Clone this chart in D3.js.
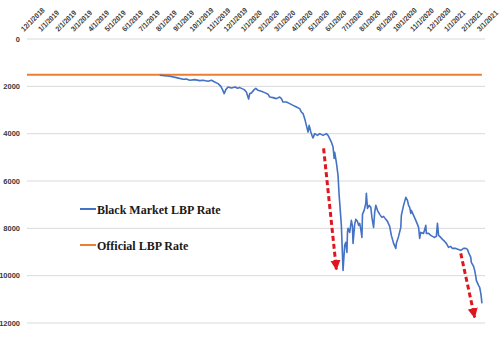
<!DOCTYPE html>
<html lang="en">
<head>
    <meta charset="UTF-8">
    <title>Black Market vs Official LBP Rate</title>
    <script src="https://d3js.org/d3.v7.min.js"></script>
    <style>
        body { margin: 0; background: #fff; }
        .tick-label {
            font-family: "Liberation Sans", Arial, sans-serif;
            font-size: 7.5px;
            font-weight: bold;
            fill: #3a3a3a;
        }
        .legend-label {
            font-family: "Liberation Serif", "Times New Roman", serif;
            font-size: 12px;
            font-weight: bold;
            fill: #1a1a1a;
        }
    </style>
</head>
<body>
    <svg width="500" height="352"></svg>
    <script>
        // month labels on the category axis
        const monthLabels = ["12/1/2018", "1/1/2019", "2/1/2019", "3/1/2019", "4/1/2019", "5/1/2019",
            "6/1/2019", "7/1/2019", "8/1/2019", "9/1/2019", "10/1/2019", "11/1/2019", "12/1/2019",
            "1/1/2020", "2/1/2020", "3/1/2020", "4/1/2020", "5/1/2020", "6/1/2020", "7/1/2020",
            "8/1/2020", "9/1/2020", "10/1/2020", "11/1/2020", "12/1/2020", "1/1/2021", "2/1/2021", "3/1/2021"];
        const yTicks = [0, 2000, 4000, 6000, 8000, 10000, 12000];

        // black market rate (date, LBP per USD)
        const blackMarket = [
            ["2019-07-28", 1534], ["2019-08-15", 1577], ["2019-08-27", 1632], ["2019-09-08", 1703],
            ["2019-09-14", 1691], ["2019-09-20", 1746], ["2019-09-29", 1716], ["2019-10-08", 1758],
            ["2019-10-14", 1746], ["2019-10-23", 1788], ["2019-10-29", 1746], ["2019-11-04", 1818],
            ["2019-11-10", 1885], ["2019-11-15", 1999], ["2019-11-18", 2139], ["2019-11-21", 2308],
            ["2019-11-24", 2139], ["2019-11-28", 2029], ["2019-12-04", 2071], ["2019-12-11", 2029],
            ["2019-12-15", 2084], ["2019-12-19", 2054], ["2019-12-27", 2139], ["2019-12-31", 2240],
            ["2020-01-04", 2536], ["2020-01-06", 2308], ["2020-01-09", 2283], ["2020-01-14", 2139],
            ["2020-01-17", 2084], ["2020-01-21", 2168], ["2020-01-27", 2211], ["2020-02-02", 2266],
            ["2020-02-08", 2338], ["2020-02-11", 2452], ["2020-02-17", 2477], ["2020-02-23", 2519],
            ["2020-02-29", 2452], ["2020-03-03", 2519], ["2020-03-06", 2663], ["2020-03-12", 2663],
            ["2020-03-18", 2731], ["2020-03-24", 2803], ["2020-03-30", 2874], ["2020-04-05", 2942],
            ["2020-04-08", 3086], ["2020-04-11", 3153], ["2020-04-14", 3365], ["2020-04-17", 3648],
            ["2020-04-20", 3931], ["2020-04-22", 3648], ["2020-04-25", 3931], ["2020-04-27", 4071],
            ["2020-04-29", 4176], ["2020-05-02", 3999], ["2020-05-07", 4071], ["2020-05-11", 3999],
            ["2020-05-17", 4071], ["2020-05-23", 3999], ["2020-05-26", 4071], ["2020-05-29", 4210],
            ["2020-06-01", 4354], ["2020-06-04", 4565], ["2020-06-06", 5043], ["2020-06-07", 4789],
            ["2020-06-10", 5212], ["2020-06-13", 5761], ["2020-06-15", 6607], ["2020-06-17", 7241],
            ["2020-06-19", 7875], ["2020-06-20", 8509], ["2020-06-22", 9777], ["2020-06-25", 8721],
            ["2020-06-27", 8594], ["2020-06-29", 9016], ["2020-06-30", 8171], ["2020-07-01", 8002],
            ["2020-07-04", 8171], ["2020-07-07", 7664], ["2020-07-09", 7917], ["2020-07-10", 8636],
            ["2020-07-13", 7833], ["2020-07-15", 7621], ["2020-07-18", 7706], ["2020-07-20", 7875],
            ["2020-07-22", 7790], ["2020-07-24", 8044], ["2020-07-26", 8383], ["2020-07-27", 7410],
            ["2020-07-30", 7241], ["2020-08-02", 6945], ["2020-08-03", 6522], ["2020-08-05", 7156],
            ["2020-08-08", 7030], ["2020-08-11", 7114], ["2020-08-13", 7537], ["2020-08-16", 7960],
            ["2020-08-18", 7326], ["2020-08-20", 7030], ["2020-08-23", 7241], ["2020-08-27", 7410],
            ["2020-08-31", 7537], ["2020-09-03", 7495], ["2020-09-07", 7621], ["2020-09-10", 7706],
            ["2020-09-14", 7917], ["2020-09-17", 8298], ["2020-09-21", 8636], ["2020-09-25", 8848],
            ["2020-09-26", 8636], ["2020-09-30", 8340], ["2020-10-04", 7960], ["2020-10-05", 7452],
            ["2020-10-09", 7030], ["2020-10-11", 6860], ["2020-10-13", 6691], ["2020-10-16", 6818],
            ["2020-10-18", 7030], ["2020-10-20", 7114], ["2020-10-22", 7368], ["2020-10-23", 7241],
            ["2020-10-27", 7452], ["2020-10-31", 7664], ["2020-11-03", 7833], ["2020-11-05", 7960],
            ["2020-11-07", 8425], ["2020-11-09", 8171], ["2020-11-14", 8213], ["2020-11-18", 7875],
            ["2020-11-19", 8213], ["2020-11-23", 8213], ["2020-11-27", 8298], ["2020-11-30", 8340],
            ["2020-12-04", 8383], ["2020-12-07", 8340], ["2020-12-09", 7790], ["2020-12-11", 8298],
            ["2020-12-15", 8383], ["2020-12-18", 8467], ["2020-12-22", 8552], ["2020-12-25", 8636],
            ["2020-12-29", 8805], ["2021-01-02", 8763], ["2021-01-05", 8848], ["2021-01-11", 8848],
            ["2021-01-16", 8890], ["2021-01-20", 8932], ["2021-01-25", 8848], ["2021-01-29", 8848],
            ["2021-02-01", 8890], ["2021-02-03", 9016], ["2021-02-07", 9228], ["2021-02-08", 9439],
            ["2021-02-12", 9608], ["2021-02-14", 9777], ["2021-02-16", 10031], ["2021-02-17", 10200],
            ["2021-02-21", 10411], ["2021-02-23", 10496], ["2021-02-25", 10750], ["2021-02-26", 10919],
            ["2021-02-27", 11172]
        ];
        // official peg
        const official = [["2018-12-01", 1507.5], ["2021-02-27", 1507.5]];

        // red dashed arrows: [from date, from value, to date, to value]
        const arrows = [
            ["2020-05-18", 4620, "2020-06-10", 9735],
            ["2021-01-20", 9059, "2021-02-14", 11764]
        ];

        const legendItems = [
            { name: "Black Market LBP Rate", color: "#4472c4" },
            { name: "Official LBP Rate", color: "#ed7d31" }
        ];

        const margin = { top: 39, right: 17, bottom: 29, left: 27 };
        const width = 500 - margin.left - margin.right;
        const height = 352 - margin.top - margin.bottom;

        const parseIso = d3.utcParse("%Y-%m-%d");
        const parseLabel = d3.utcParse("%m/%d/%Y");

        const svg = d3.select("svg")
            .append("g")
            .attr("transform", `translate(${margin.left},${margin.top})`);

        const x = d3.scaleUtc()
            .domain([parseLabel(monthLabels[0]), parseLabel(monthLabels[monthLabels.length - 1])])
            .range([0, width]);
        const y = d3.scaleLinear()
            .domain([0, 12000])
            .range([0, height]);

        // horizontal gridlines
        svg.append("g")
            .selectAll("line")
            .data(yTicks)
            .enter()
            .append("line")
            .attr("x1", 0)
            .attr("x2", width + 2)
            .attr("y1", d => y(d))
            .attr("y2", d => y(d))
            .attr("stroke", "#d9d9d9")
            .attr("stroke-width", 1);

        // y labels
        svg.append("g")
            .selectAll("text")
            .data(yTicks)
            .enter()
            .append("text")
            .attr("class", "tick-label")
            .attr("x", -7)
            .attr("y", d => y(d))
            .attr("dy", "0.35em")
            .attr("text-anchor", "end")
            .text(d => d);

        // rotated month labels along the top (narrowed a bit, like Calibri)
        svg.append("g")
            .selectAll("text")
            .data(monthLabels)
            .enter()
            .append("text")
            .attr("class", "tick-label")
            .attr("transform", d => `translate(${x(parseLabel(d)) - 3},-7) rotate(-45) scale(0.9,1)`)
            .attr("text-anchor", "start")
            .text(d => d);

        const line = d3.line()
            .x(d => x(parseIso(d[0])))
            .y(d => y(d[1]));

        svg.append("path")
            .datum(official)
            .attr("fill", "none")
            .attr("stroke", "#ed7d31")
            .attr("stroke-width", 2)
            .attr("d", line);

        svg.append("path")
            .datum(blackMarket)
            .attr("fill", "none")
            .attr("stroke", "#4472c4")
            .attr("stroke-width", 1.6)
            .attr("stroke-linejoin", "round")
            .attr("d", line);

        // arrows
        svg.append("defs").append("marker")
            .attr("id", "head")
            .attr("viewBox", "0 0 10 10")
            .attr("refX", 9)
            .attr("refY", 5)
            .attr("markerWidth", 3.4)
            .attr("markerHeight", 3.4)
            .attr("orient", "auto")
            .append("path")
            .attr("d", "M0,0 L10,5 L0,10 Z")
            .attr("fill", "#e0161e");

        svg.selectAll(".arrow")
            .data(arrows)
            .enter()
            .append("line")
            .attr("class", "arrow")
            .attr("x1", d => x(parseIso(d[0])))
            .attr("y1", d => y(d[1]))
            .attr("x2", d => x(parseIso(d[2])))
            .attr("y2", d => y(d[3]))
            .attr("stroke", "#e0161e")
            .attr("stroke-width", 3)
            .attr("stroke-dasharray", "5,3")
            .attr("marker-end", "url(#head)");

        // legend
        const legend = svg.append("g")
            .attr("transform", "translate(53,170)");
        legendItems.forEach((item, i) => {
            const g = legend.append("g").attr("transform", `translate(0,${i * 36})`);
            g.append("line")
                .attr("x1", 0).attr("x2", 16)
                .attr("y1", 0).attr("y2", 0)
                .attr("stroke", item.color)
                .attr("stroke-width", 2);
            g.append("text")
                .attr("class", "legend-label")
                .attr("x", 17)
                .attr("y", 4.5)
                .text(item.name);
        });
    </script>
</body>
</html>
